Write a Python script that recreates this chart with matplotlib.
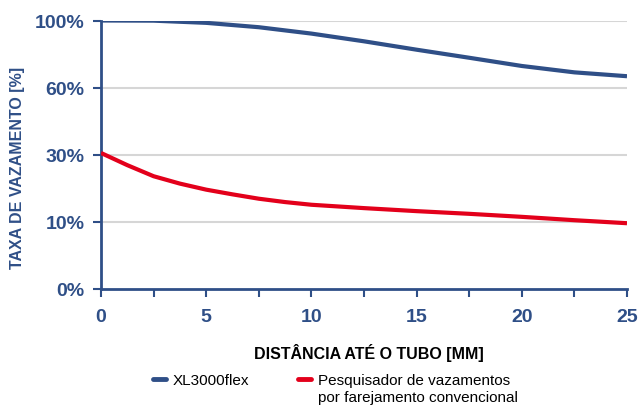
#!/usr/bin/env python3

# Leak detection rate vs. distance to the tube: XL3000flex vs conventional sniffer.

import numpy as np
import matplotlib
matplotlib.use('agg')
import matplotlib.pyplot as plt

distance_xl = [0, 2.5, 5, 7.5, 10, 12.5, 15, 17.5, 20, 22.5, 25]
xl3000flex = [100, 99.9, 98.6, 96.0, 92.2, 87.6, 82.6, 77.8, 72.9, 69.1, 66.8]

distance_conv = [0, 1.25, 2.5, 3.75, 5, 6.25, 7.5, 8.75, 10, 12.5, 15, 17.5, 20, 22.5, 25]
conventional = [30.8, 26.9, 23.6, 21.4, 19.6, 18.2, 16.9, 15.9, 15.1, 14.1, 13.2, 12.4,
                11.5, 10.5, 9.8]

y_ticks = [0, 10, 30, 60, 100]
y_tick_labels = ['0%', '10%', '30%', '60%', '100%']
x_ticks = [0, 5, 10, 15, 20, 25]

name_xl = 'XL3000flex'
name_conv = ['Pesquisador de vazamentos', 'por farejamento convencional']

BLUE = '#2f4f87'
RED = '#e3001b'
plt.rcParams['font.family'] = ['Liberation Sans', 'DejaVu Sans']

# the y axis is ordinal: each labelled step takes the same height
steps = np.arange(len(y_ticks))


def forward(v):
    return np.interp(v, y_ticks, steps)


def inverse(p):
    return np.interp(p, steps, y_ticks)


W, H = 639, 406
fig = plt.figure(figsize=(W / 100, H / 100), dpi=100)
ax = fig.add_axes([101 / W, 1 - 290 / H, 526 / W, 268.5 / H])
ax.set_yscale('function', functions=(forward, inverse))

l1, = ax.plot(distance_xl, xl3000flex, color=BLUE, lw=3.0, solid_capstyle='butt',
              solid_joinstyle='round', zorder=3)
l2, = ax.plot(distance_conv, conventional, color=RED, lw=3.0, solid_capstyle='butt',
              solid_joinstyle='round', zorder=3)

ax.set_xlim(0, 25)
ax.set_ylim(0, 100)
ax.set_xticks(x_ticks)
ax.set_xticks(np.arange(0, 25.1, 2.5), minor=True)
ax.set_yticks(y_ticks)
ax.set_yticklabels(y_tick_labels)
ax.yaxis.set_minor_locator(matplotlib.ticker.NullLocator())

for t in ax.get_yticks():
    if t > 0:
        ax.axhline(t, color='#d6d6d6', lw=1.5, zorder=1)

for side in ['top', 'right']:
    ax.spines[side].set_visible(False)
for side in ['left', 'bottom']:
    ax.spines[side].set_color(BLUE)
    ax.spines[side].set_linewidth(2)

ax.tick_params(axis='both', which='both', color=BLUE, width=1.5, length=6,
               labelcolor=BLUE, labelsize=14)
ax.tick_params(axis='x', which='major', pad=8)
ax.tick_params(axis='y', pad=6)
for lab in ax.get_xticklabels() + ax.get_yticklabels():
    lab.set_fontweight('bold')

fig.text(18 / W, 1 - 168 / H, 'TAXA DE VAZAMENTO [%]', rotation=90, ha='center',
         va='center', fontsize=11.5, fontweight='bold', color=BLUE)
fig.text(369 / W, 1 - 353 / H, 'DISTÂNCIA ATÉ O TUBO [MM]', ha='center', va='center',
         fontsize=11.5, fontweight='bold', color='black')

leg = fig.legend([l1, l2], [name_xl, name_conv[0]], ncol=2, loc='center left',
                 bbox_to_anchor=(153 / W, 1 - 381.5 / H), frameon=False,
                 fontsize=11, handlelength=0.85, handletextpad=0.45,
                 columnspacing=3.2, borderpad=0, borderaxespad=0)
for h in leg.legend_handles:
    h.set_linewidth(3.5)
    h.set_solid_capstyle('round')

# second line of the red label, placed under the first one
fig.canvas.draw()
bb = leg.get_texts()[1].get_window_extent()
fig.text(bb.x0 / W, (bb.y0 - 17) / H, name_conv[1], fontsize=11, color='black',
         ha='left', va='bottom')

fig.savefig('out.png', dpi=100)
